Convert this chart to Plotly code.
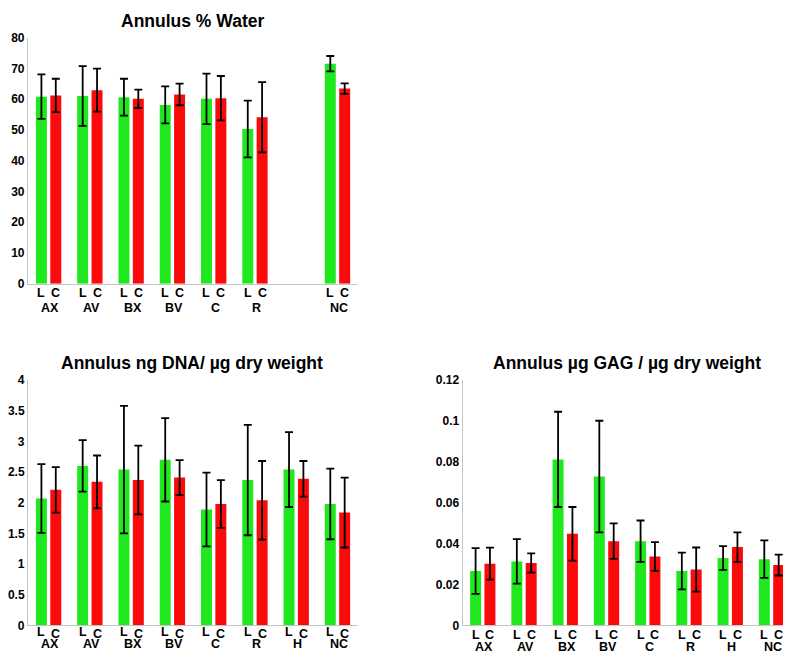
import plotly.graph_objects as go

# ---------------- data ----------------
water_groups = ["AX", "AV", "BX", "BV", "C", "R", "NC"]
water_pos = [1, 2, 3, 4, 5, 6, 8]
water_L = [60.8, 61.0, 60.6, 58.1, 60.1, 50.3, 71.5]
water_L_err = [7.2, 9.7, 6.0, 6.0, 8.2, 9.2, 2.5]
water_C = [61.2, 62.9, 60.1, 61.5, 60.3, 54.1, 63.4]
water_C_err = [5.4, 7.0, 3.0, 3.5, 7.2, 11.4, 1.7]

groups8 = ["AX", "AV", "BX", "BV", "C", "R", "H", "NC"]
pos8 = [1, 2, 3, 4, 5, 6, 7, 8]
dna_L = [2.07, 2.60, 2.54, 2.70, 1.89, 2.37, 2.54, 1.98]
dna_L_err = [0.56, 0.42, 1.04, 0.68, 0.60, 0.90, 0.61, 0.575]
dna_C = [2.21, 2.34, 2.37, 2.41, 1.98, 2.04, 2.39, 1.84]
dna_C_err = [0.37, 0.43, 0.56, 0.285, 0.39, 0.64, 0.29, 0.57]

gag_L = [0.0266, 0.0313, 0.0812, 0.0728, 0.0412, 0.0266, 0.0330, 0.0324]
gag_L_err = [0.0112, 0.0109, 0.0233, 0.0273, 0.0101, 0.0090, 0.0058, 0.0092]
gag_C = [0.0302, 0.0305, 0.0448, 0.0412, 0.0337, 0.0273, 0.0383, 0.0295]
gag_C_err = [0.0078, 0.0047, 0.0131, 0.0087, 0.0070, 0.0108, 0.0072, 0.0051]

titles = ["Annulus % Water", "Annulus ng DNA/ µg dry weight", "Annulus µg GAG / µg dry weight"]

# ---------------- style ----------------
GREEN = "#1fe81f"
RED = "#fa0a0a"
FONT = "Liberation Sans"
BW = 0.266
OFF = 0.174
PAGE_PAD = 8            # default body margin of the html page
W, H = 800 - PAGE_PAD, 665 - PAGE_PAD


def px_x(p):
    return (p - PAGE_PAD) / W


def px_y(p):
    return 1 - (p - PAGE_PAD) / H


fig = go.Figure()


def add_pair(pos, lv, le, cv, ce, xa, ya):
    for vals, errs, col, off in ((lv, le, GREEN, -OFF - BW / 2), (cv, ce, RED, OFF - BW / 2)):
        fig.add_trace(go.Bar(
            x=pos, y=vals, width=BW, offset=off,
            marker=dict(color=col, line=dict(width=0)),
            error_y=dict(type="data", array=errs, visible=True, color="black",
                         thickness=1.8, width=4),
            xaxis=xa, yaxis=ya, showlegend=False))


add_pair(water_pos, water_L, water_L_err, water_C, water_C_err, "x", "y")
add_pair(pos8, dna_L, dna_L_err, dna_C, dna_C_err, "x2", "y2")
add_pair(pos8, gag_L, gag_L_err, gag_C, gag_C_err, "x3", "y3")

top_dom = [px_y(282.7), px_y(31)]
bot_dom = [px_y(631.7), px_y(381)]
ax_common = dict(showgrid=False, zeroline=False, showline=True, linecolor="#c4c4c4",
                 linewidth=1, ticks="", fixedrange=True)
tickfont = dict(family=FONT, size=12, color="black", weight="bold")

fig.update_layout(
    width=W, height=H, margin=dict(l=0, r=0, t=0, b=0),
    paper_bgcolor="white", plot_bgcolor="white", barmode="overlay",
    xaxis=dict(domain=[px_x(26), px_x(357)], range=[0.5, 8.5], showticklabels=False,
               anchor="y", **ax_common),
    yaxis=dict(domain=top_dom, range=[0, 80], dtick=10, anchor="x",
               tickfont=tickfont, **ax_common),
    xaxis2=dict(domain=[px_x(26), px_x(357)], range=[0.5, 8.5], showticklabels=False,
                anchor="y2", **ax_common),
    yaxis2=dict(domain=bot_dom, range=[0, 4], dtick=0.5, anchor="x2",
                tickfont=tickfont, **ax_common),
    xaxis3=dict(domain=[px_x(461.7), px_x(783)], range=[0.51, 8.28], showticklabels=False,
                anchor="y3", **ax_common),
    yaxis3=dict(domain=bot_dom, range=[0, 0.12], dtick=0.02, anchor="x3",
                tickfont=tickfont, **ax_common),
)

ann = []
lab_font = dict(family=FONT, size=12.5, color="black", weight="bold")


def add_labels(pos, names, xref, yl, yc, yn):
    for p, n in zip(pos, names):
        ann.append(dict(x=p - OFF, y=px_y(yl), xref=xref, yref="paper", text="L",
                        showarrow=False, font=lab_font, xanchor="center", yanchor="middle"))
        ann.append(dict(x=p + OFF, y=px_y(yc), xref=xref, yref="paper", text="C",
                        showarrow=False, font=lab_font, xanchor="center", yanchor="middle"))
        ann.append(dict(x=p + 0.04, y=px_y(yn), xref=xref, yref="paper", text=n,
                        showarrow=False, font=lab_font, xanchor="center", yanchor="middle"))


add_labels(water_pos, water_groups, "x", 291.7, 291.7, 307.7)
add_labels(pos8, groups8, "x2", 638.8, 640.3, 650.3)
add_labels(pos8, groups8, "x3", 641.0, 641.0, 653.5)

title_font = dict(family=FONT, size=17.5, color="black", weight="bold")
for t, x, y in zip(titles, [191, 190, 627], [14, 364, 364]):
    ann.append(dict(x=px_x(x), y=px_y(y), xref="paper", yref="paper", text=t,
                    showarrow=False, font=title_font, xanchor="center", yanchor="middle"))

fig.update_layout(annotations=ann)
fig.write_html("out.html")
